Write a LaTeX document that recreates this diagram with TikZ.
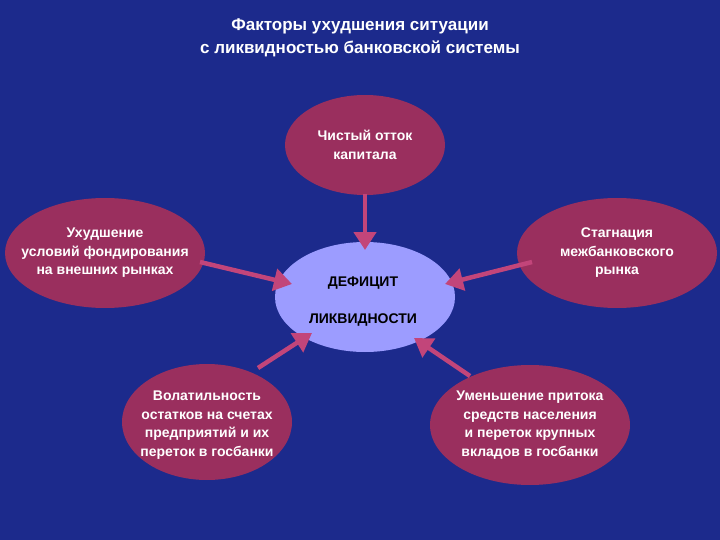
\documentclass[tikz,border=0pt]{standalone}
\usepackage{fontspec}
\setmainfont{Liberation Sans}
\usetikzlibrary{arrows.meta}
\definecolor{bg}{HTML}{1C2A8C}
\definecolor{mar}{HTML}{9A2F5E}
\definecolor{arr}{HTML}{C2457A}
\definecolor{lav}{HTML}{9C9CFF}
\begin{document}
\begin{tikzpicture}[x=1pt,y=-1pt,
  el/.style={draw=none,text=white,font=\bfseries\fontsize{14}{18.5}\selectfont,align=center},
  ar/.style={draw=arr,line width=4.5pt,-{Triangle[length=18pt,width=22pt]}}]
\fill[bg] (0,0) rectangle (720,540);
\useasboundingbox (0,0) rectangle (720,540);
\node[text=white,font=\bfseries\fontsize{17}{23}\selectfont,align=center] (t) at (360,38) {Факторы ухудшения ситуации\\с ликвидностью банковской системы};
\fill[lav] (365,297) ellipse [x radius=90,y radius=55];
\node[font=\bfseries\fontsize{14}{17}\selectfont] (c1) at (363,283) {ДЕФИЦИТ};
\node[font=\bfseries\fontsize{14}{17}\selectfont] (c2) at (363,320) {ЛИКВИДНОСТИ};
\fill[mar] (365,145) ellipse [x radius=80,y radius=50];
\node[el] (top) at (365,145) {Чистый отток\\капитала};
\fill[mar] (105,253) ellipse [x radius=100,y radius=55];
\node[el] (l) at (105,253) {Ухудшение\\условий фондирования\\на внешних рынках};
\fill[mar] (617,253) ellipse [x radius=100,y radius=55];
\node[el] (r) at (617,253) {Стагнация\\межбанковского\\рынка};
\fill[mar] (207,422) ellipse [x radius=85,y radius=58];
\node[el] (bl) at (207,425) {Волатильность\\остатков на счетах\\предприятий и их\\переток в госбанки};
\fill[mar] (530,425) ellipse [x radius=100,y radius=60];
\node[el] (br) at (530,425) {Уменьшение притока\\средств населения\\и переток крупных\\вкладов в госбанки};
\coordinate (a1) at (365,194); \coordinate (b1) at (365,250);
\coordinate (a2) at (200,262); \coordinate (b2) at (292,284);
\coordinate (a3) at (532,262); \coordinate (b3) at (445,284);
\coordinate (a4) at (258,368); \coordinate (b4) at (312,333);
\coordinate (a5) at (470,376); \coordinate (b5) at (414,338);
\draw[ar] (a1) -- (b1);
\draw[ar] (a2) -- (b2);
\draw[ar] (a3) -- (b3);
\draw[ar] (a4) -- (b4);
\draw[ar] (a5) -- (b5);
\end{tikzpicture}
\end{document}
